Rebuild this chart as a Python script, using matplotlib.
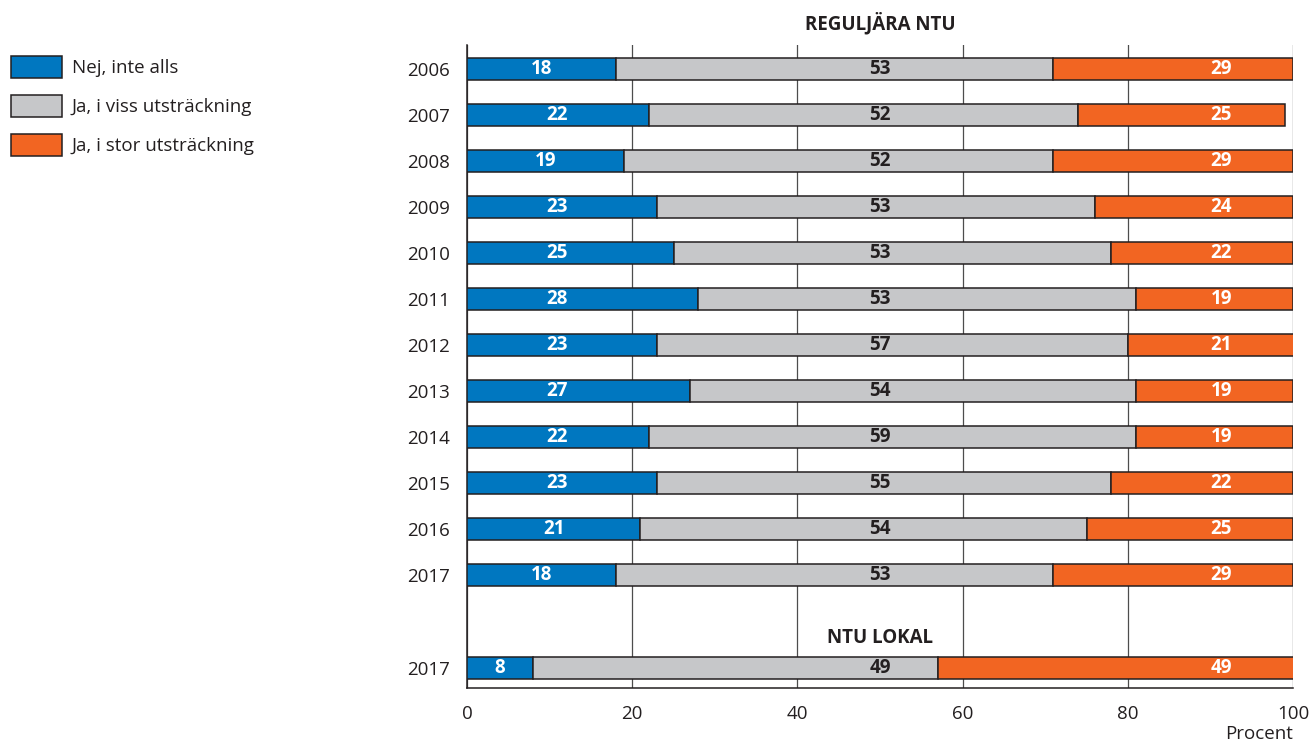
import matplotlib.pyplot as plt
from matplotlib.patches import Patch

# --- Data ---
years = ['2006', '2007', '2008', '2009', '2010', '2011', '2012',
         '2013', '2014', '2015', '2016', '2017', '2017']
nej = [18, 22, 19, 23, 25, 28, 23, 27, 22, 23, 21, 18, 8]
viss = [53, 52, 52, 53, 53, 53, 57, 54, 59, 55, 54, 53, 49]
stor = [29, 25, 29, 24, 22, 19, 21, 19, 19, 22, 25, 29, 49]
series_names = ['Nej, inte alls', 'Ja, i viss utsträckning', 'Ja, i stor utsträckning']

BLUE = '#0077C0'
GREY = '#C6C7C9'
ORANGE = '#F26522'
EDGE = '#231F20'
FS = 13.5

plt.rcParams['font.family'] = ['Open Sans', 'DejaVu Sans']

fig = plt.figure(figsize=(13.11, 7.42), dpi=100)
ax = fig.add_axes([467 / 1311, 1 - 688 / 742, 826 / 1311, 643 / 742])

# row positions: twelve years, a gap, then the local row
ypos = list(range(12)) + [13.02]
h = 0.48

for i, y in enumerate(ypos):
    a, b, c = nej[i], viss[i], stor[i]
    ax.barh(y, a, left=0, height=h, color=BLUE, edgecolor=EDGE, linewidth=1.1, zorder=3)
    ax.barh(y, b, left=a, height=h, color=GREY, edgecolor=EDGE, linewidth=1.1, zorder=3)
    ax.barh(y, c, left=a + b, height=h, color=ORANGE, edgecolor=EDGE, linewidth=1.1, zorder=3)
    ax.text(min(10.9, a / 2), y, str(a), ha='center', va='center', color='white',
            fontsize=FS, fontweight='bold', zorder=4)
    ax.text(50, y, str(b), ha='center', va='center', color=EDGE,
            fontsize=FS, fontweight='bold', zorder=4)
    ax.text(91.3, y, str(c), ha='center', va='center', color='white',
            fontsize=FS, fontweight='bold', zorder=4)

ax.set_xlim(0, 100)
ax.set_ylim(13.46, -0.52)
ax.set_yticks(ypos)
ax.set_yticklabels(years)
ax.set_xticks([0, 20, 40, 60, 80, 100])
ax.tick_params(axis='both', length=0, labelsize=FS, colors=EDGE)
ax.tick_params(axis='y', pad=12)
ax.tick_params(axis='x', pad=12)
ax.grid(axis='x', color='#4D4D4D', linewidth=0.9, zorder=0)
ax.set_axisbelow(True)
for s in ['top', 'right']:
    ax.spines[s].set_visible(False)
for s in ['left', 'bottom']:
    ax.spines[s].set_color(EDGE)
    ax.spines[s].set_linewidth(1.1)

ax.text(50, -1.0, 'REGULJÄRA NTU', ha='center', va='center', fontsize=FS,
        fontweight='bold', color=EDGE, clip_on=False)
ax.text(50, 12.37, 'NTU LOKAL', ha='center', va='center', fontsize=FS,
        fontweight='bold', color=EDGE, zorder=4)
fig.text(1293 / 1311, 1 - 734 / 742, 'Procent', ha='right', va='center',
         fontsize=FS, color=EDGE)

handles = [Patch(facecolor=col, edgecolor=EDGE, linewidth=1.1)
           for col in (BLUE, GREY, ORANGE)]
fig.legend(handles, series_names, loc='upper left',
           bbox_to_anchor=(11 / 1311, 1 - 56 / 742), frameon=False,
           fontsize=FS, handlelength=2.7, handleheight=1.45,
           labelspacing=0.88, handletextpad=0.55, borderpad=0, borderaxespad=0,
           labelcolor=EDGE)

fig.savefig('out.png', dpi=100)
